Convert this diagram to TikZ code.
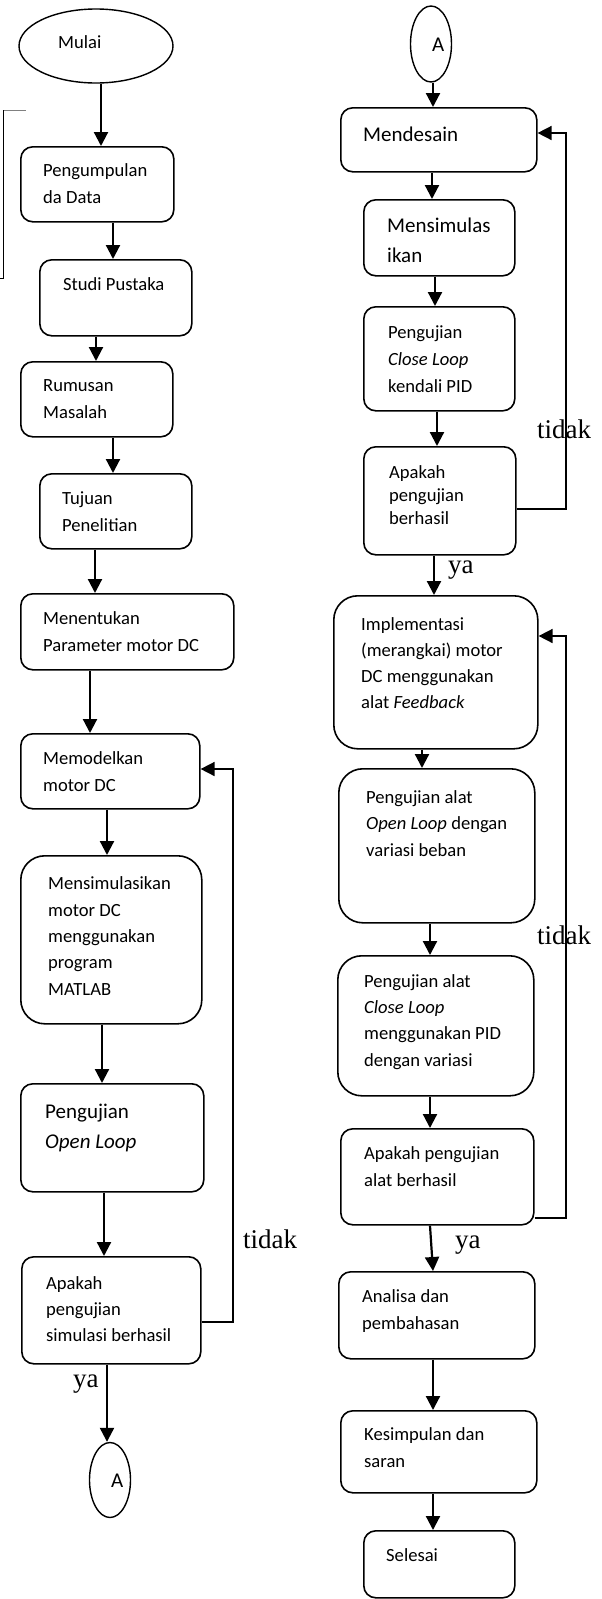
\documentclass[tikz,border=0pt]{standalone}
\usepackage{fontspec}
\setmainfont{Carlito}
\newfontfamily\timesf{Liberation Serif}
\usetikzlibrary{shapes.geometric,arrows.meta}
\begin{document}
\begin{tikzpicture}[x=1pt,y=-1pt,
  box/.style={draw,line width=1.6pt,rounded corners=12pt,anchor=north west,inner sep=0pt},
  bigbox/.style={box,rounded corners=24pt},
  oval/.style={draw,line width=1.4pt,ellipse,inner sep=0pt},
  txt/.style={anchor=base west,align=left,inner sep=0pt,font=\fontsize{18.6}{26.3}\selectfont},
  bigtxt/.style={txt,font=\fontsize{21}{29.5}\selectfont},
  lbl/.style={anchor=base west,inner sep=0pt,font=\timesf\fontsize{27}{30}\selectfont},
  arr/.style={line width=2.2pt,-{Triangle[length=14pt,width=14pt]}},
  fb/.style={line width=1.6pt,-{Triangle[length=14pt,width=14pt]}}
]
\useasboundingbox (0,0) rectangle (602,1599);
% odd bracket top-left
\draw[gray,line width=1pt] (3,110) -- (26,110);
\draw[line width=1pt] (3,110) -- (3,278) -- (0,278);

% ---------- left column ----------
% (text nodes: base anchor = baseline of the last line)
\node[oval,minimum width=154pt,minimum height=74pt] (mulai) at (96,46) {};
\node[txt] (mulait) at (58,48) {Mulai};

\node[box,minimum width=153pt,minimum height=75pt] (b1) at (20,146) {};
\node[txt] (b1t) at (43,203) {Pengumpulan\\da Data};

\node[box,minimum width=152pt,minimum height=76pt] (b2) at (39,259) {};
\node[txt] (b2t) at (63,290) {Studi Pustaka};

\node[box,minimum width=152pt,minimum height=75pt] (b3) at (20,361) {};
\node[txt] (b3t) at (43,418) {Rumusan\\Masalah};

\node[box,minimum width=152pt,minimum height=75pt] (b4) at (39,473) {};
\node[txt] (b4t) at (62,531) {Tujuan\\Penelitian};

\node[box,minimum width=213pt,minimum height=76pt] (b5) at (20,593) {};
\node[txt] (b5t) at (43,651) {Menentukan\\Parameter motor DC};

\node[box,minimum width=179pt,minimum height=75pt] (b6) at (20,733) {};
\node[txt] (b6t) at (43,791) {Memodelkan\\motor DC};

\node[bigbox,minimum width=181pt,minimum height=168pt] (b7) at (20,855) {};
\node[txt] (b7t) at (48,995) {Mensimulasikan\\motor DC\\menggunakan\\program\\MATLAB};

\node[box,minimum width=183pt,minimum height=108pt] (b8) at (20,1083) {};
\node[bigtxt] (b8t) at (45,1148) {Pengujian\\\textit{Open Loop}};

\node[box,minimum width=179pt,minimum height=107pt] (b9) at (21,1256) {};
\node[txt,font=\fontsize{18.6}{26}\selectfont] (b9t) at (46,1341) {Apakah\\pengujian\\simulasi berhasil};

\node[oval,minimum width=41pt,minimum height=75pt] (conA1) at (110,1480) {};
\node[txt,font=\fontsize{21}{24}\selectfont] (conA1t) at (111,1487) {A};

\draw[arr] (mulai.south -| 101,0) -- (b1.north -| 101,0);
\draw[arr] (b1.south -| 113,0) -- (b2.north -| 113,0);
\draw[arr] (b2.south -| 96,0) -- (b3.north -| 96,0);
\draw[arr] (b3.south -| 113,0) -- (b4.north -| 113,0);
\draw[arr] (b4.south -| 95,0) -- (b5.north -| 95,0);
\draw[arr] (b5.south -| 90,0) -- (b6.north -| 90,0);
\draw[arr] (b6.south -| 107,0) -- (b7.north -| 107,0);
\draw[arr] (b7.south -| 102,0) -- (b8.north -| 102,0);
\draw[arr] (b8.south -| 104,0) -- (b9.north -| 104,0);
\draw[arr] (b9.south -| 107,0) -- (conA1.north -| 107,0);
\draw[fb] (b9.east |- 0,1322) -- (233,1322) -- (233,769) -- (b6.east |- 0,769);
\node[lbl] (tidak1) at (243,1248) {tidak};
\node[lbl] (ya1) at (73,1387) {ya};

% ---------- right column ----------
\node[oval,minimum width=41pt,minimum height=76pt] (conA2) at (431,44) {};
\node[txt,font=\fontsize{21}{24}\selectfont] (conA2t) at (432,51) {A};

\node[box,minimum width=196pt,minimum height=64pt] (r1) at (340,107) {};
\node[bigtxt] (r1t) at (363,141) {Mendesain};

\node[box,minimum width=151pt,minimum height=76pt] (r2) at (363,199) {};
\node[bigtxt,font=\fontsize{21}{30}\selectfont] (r2t) at (387,262) {Mensimulas\\ikan};

\node[box,minimum width=151pt,minimum height=104pt] (r3) at (363,306) {};
\node[txt,font=\fontsize{18.6}{27}\selectfont] (r3t) at (388,392) {Pengujian\\\textit{Close Loop}\\kendali PID};

\node[box,minimum width=152pt,minimum height=108pt] (r4) at (363,446) {};
\node[txt,font=\fontsize{18.6}{23}\selectfont] (r4t) at (389,524) {Apakah\\pengujian\\berhasil};

\node[bigbox,minimum width=204pt,minimum height=153pt] (r5) at (333,595) {};
\node[txt,font=\fontsize{18.6}{26}\selectfont] (r5t) at (361,708) {Implementasi\\(merangkai) motor\\DC menggunakan\\alat \textit{Feedback}};

\node[bigbox,minimum width=196pt,minimum height=154pt] (r6) at (338,768) {};
\node[txt] (r6t) at (366,856) {Pengujian alat\\\textit{Open Loop} dengan\\variasi beban};

\node[bigbox,minimum width=196pt,minimum height=140pt] (r7) at (337,955) {};
\node[txt] (r7t) at (364,1066) {Pengujian alat\\\textit{Close Loop}\\menggunakan PID\\dengan variasi};

\node[box,minimum width=193pt,minimum height=96pt] (r8) at (340,1128) {};
\node[txt] (r8t) at (364,1186) {Apakah pengujian\\alat berhasil};

\node[box,minimum width=196pt,minimum height=87pt] (r9) at (338,1271) {};
\node[txt] (r9t) at (362,1329) {Analisa dan\\pembahasan};

\node[box,minimum width=196pt,minimum height=82pt] (r10) at (340,1410) {};
\node[txt] (r10t) at (364,1467) {Kesimpulan dan\\saran};

\node[box,minimum width=151pt,minimum height=67pt] (r11) at (363,1530) {};
\node[txt] (r11t) at (386,1561) {Selesai};

\draw[arr] (conA2.south -| 433,0) -- (r1.north -| 433,0);
\draw[arr] (r1.south -| 432,0) -- (r2.north -| 432,0);
\draw[arr] (r2.south -| 435,0) -- (r3.north -| 435,0);
\draw[arr] (r3.south -| 437,0) -- (r4.north -| 437,0);
\draw[arr] (r4.south -| 434,0) -- (r5.north -| 434,0);
\draw[arr] (r5.south -| 422,0) -- (r6.north -| 422,0);
\draw[arr] (r6.south -| 430,0) -- (r7.north -| 430,0);
\draw[arr] (r7.south -| 430,0) -- (r8.north -| 430,0);
\draw[arr] (r8.south -| 430,0) -- (r9.north -| 433,0);
\draw[arr] (r9.south -| 433,0) -- (r10.north -| 433,0);
\draw[arr] (r10.south -| 433,0) -- (r11.north -| 433,0);
\draw[fb] (r4.east |- 0,509) -- (566,509) -- (566,133) -- (r1.east |- 0,133);
\draw[fb] (r8.east |- 0,1218) -- (566,1218) -- (566,636) -- (r5.east |- 0,636);
\node[lbl] (tidak2) at (537,438) {tidak};
\node[lbl] (ya2) at (448,573) {ya};
\node[lbl] (tidak3) at (537,944) {tidak};
\node[lbl] (ya3) at (455,1248) {ya};
\end{tikzpicture}
\end{document}
